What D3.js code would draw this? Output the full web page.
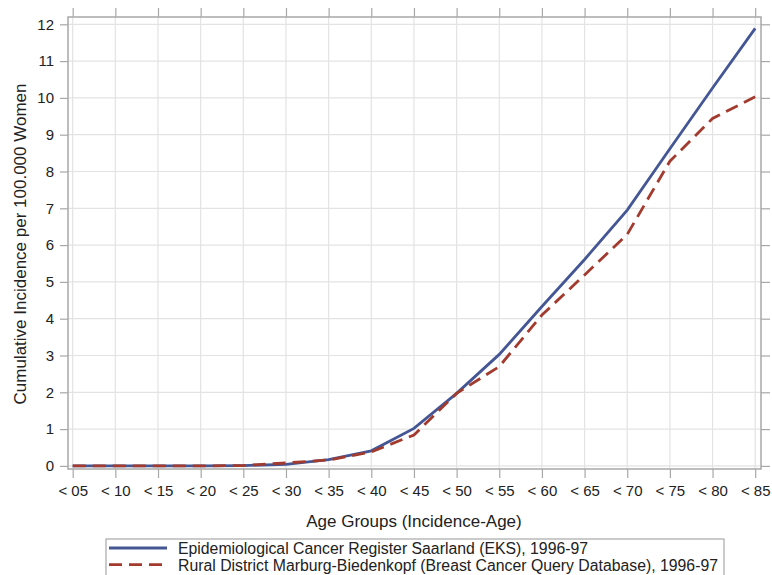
<!DOCTYPE html>
<html>
<head>
<meta charset="utf-8">
<script src="https://cdn.jsdelivr.net/npm/d3@7/dist/d3.min.js"></script>
<style>
body { margin: 0; background: #fff; }
svg text { font-family: "Liberation Sans", Arial, sans-serif; fill: #222; }
</style>
</head>
<body>
<div class="grafico"></div>
<script>
var edades = ["< 05","< 10","< 15","< 20","< 25","< 30","< 35","< 40","< 45","< 50","< 55","< 60","< 65","< 70","< 75","< 80","< 85"];
var eks = [0,0,0,0,0.01,0.04,0.17,0.41,1.02,1.97,3.03,4.33,5.61,6.95,8.62,10.27,11.89];
var marburg = [0,0,0,0,0.01,0.08,0.16,0.38,0.84,1.97,2.7,4.1,5.19,6.29,8.28,9.44,10.03];
var ticksY = [0,1,2,3,4,5,6,7,8,9,10,11,12];
var nombres = ["Epidemiological Cancer Register Saarland (EKS), 1996-97",
    "Rural District Marburg-Biedenkopf (Breast Cancer Query Database), 1996-97"];

const w = 772, h = 575;
const izq = 68, der = 761, arriba = 17, abajo = 469;

const x = d3.scalePoint()
    .domain(edades)
    .range([72.7, 755.2]);

const y = d3.scaleLinear()
    .domain([0, 12])
    .range([465.9, 24.3]);

var svg = d3.select(".grafico")
    .append("svg")
    .attr("width", w)
    .attr("height", h);

// grid
svg.append("g").selectAll("line")
    .data(ticksY)
    .enter().append("line")
    .attr("x1", izq).attr("x2", der)
    .attr("y1", function(d){ return y(d); })
    .attr("y2", function(d){ return y(d); })
    .attr("stroke", "#e3e3e3").attr("stroke-width", 1.2);

svg.append("g").selectAll("line")
    .data(edades)
    .enter().append("line")
    .attr("y1", arriba).attr("y2", abajo)
    .attr("x1", function(d){ return x(d); })
    .attr("x2", function(d){ return x(d); })
    .attr("stroke", "#e3e3e3").attr("stroke-width", 1.2);

// axes
var ejeX = svg.append("g")
    .attr("transform", "translate(0," + abajo + ")")
    .call(d3.axisBottom(x).tickSize(9).tickPadding(7));
var ejeXtop = svg.append("g")
    .attr("transform", "translate(0," + arriba + ")")
    .call(d3.axisTop(x).tickSize(9).tickFormat(""));
var ejeY = svg.append("g")
    .attr("transform", "translate(" + izq + ",0)")
    .call(d3.axisLeft(y).tickValues(ticksY).tickSize(8).tickPadding(6));
var ejeYder = svg.append("g")
    .attr("transform", "translate(" + der + ",0)")
    .call(d3.axisRight(y).tickValues(ticksY).tickSize(9).tickFormat(""));

[ejeX, ejeXtop, ejeY, ejeYder].forEach(function(g){
    g.select(".domain").remove();
    g.selectAll(".tick line").attr("stroke", "#a8a8a8").attr("stroke-width", 1.2);
    g.selectAll(".tick text").attr("font-size", "15px").style("fill", "#222");
});

// frame
svg.append("rect")
    .attr("x", izq).attr("y", arriba)
    .attr("width", der - izq).attr("height", abajo - arriba)
    .attr("fill", "none")
    .attr("stroke", "#a8a8a8").attr("stroke-width", 1.5);

// lines
var linea = d3.line()
    .x(function(d, i){ return x(edades[i]); })
    .y(function(d){ return y(d); });

svg.append("path")
    .datum(eks)
    .attr("d", linea)
    .attr("fill", "none")
    .attr("stroke", "#445694")
    .attr("stroke-width", 2.8);

svg.append("path")
    .datum(marburg)
    .attr("d", linea)
    .attr("fill", "none")
    .attr("stroke", "#a23a2e")
    .attr("stroke-width", 2.8)
    .attr("stroke-dasharray", "13,7");

// axis titles
svg.append("text")
    .attr("x", 414).attr("y", 527)
    .attr("text-anchor", "middle")
    .attr("font-size", "17px")
    .text("Age Groups (Incidence-Age)");

svg.append("text")
    .attr("transform", "translate(26,244) rotate(-90)")
    .attr("text-anchor", "middle")
    .attr("font-size", "17px")
    .text("Cumulative Incidence per 100.000 Women");

// legend
var leyenda = svg.append("g");
leyenda.append("rect")
    .attr("x", 106).attr("y", 539)
    .attr("width", 618).attr("height", 45)
    .attr("fill", "#fff")
    .attr("stroke", "#a8a8a8").attr("stroke-width", 1.2);

var estilos = [
    {color: "#445694", dash: null},
    {color: "#a23a2e", dash: "13,7"}
];

leyenda.selectAll("line")
    .data(nombres)
    .enter().append("line")
    .attr("x1", 109).attr("x2", 167)
    .attr("y1", function(d, i){ return 548 + i*16.6; })
    .attr("y2", function(d, i){ return 548 + i*16.6; })
    .attr("stroke", function(d, i){ return estilos[i].color; })
    .attr("stroke-width", 2.8)
    .attr("stroke-dasharray", function(d, i){ return estilos[i].dash; });

leyenda.selectAll("text")
    .data(nombres)
    .enter().append("text")
    .attr("x", 178)
    .attr("y", function(d, i){ return 554 + i*16.6; })
    .attr("font-size", "15.8px")
    .text(function(d){ return d; });
</script>
</body>
</html>
